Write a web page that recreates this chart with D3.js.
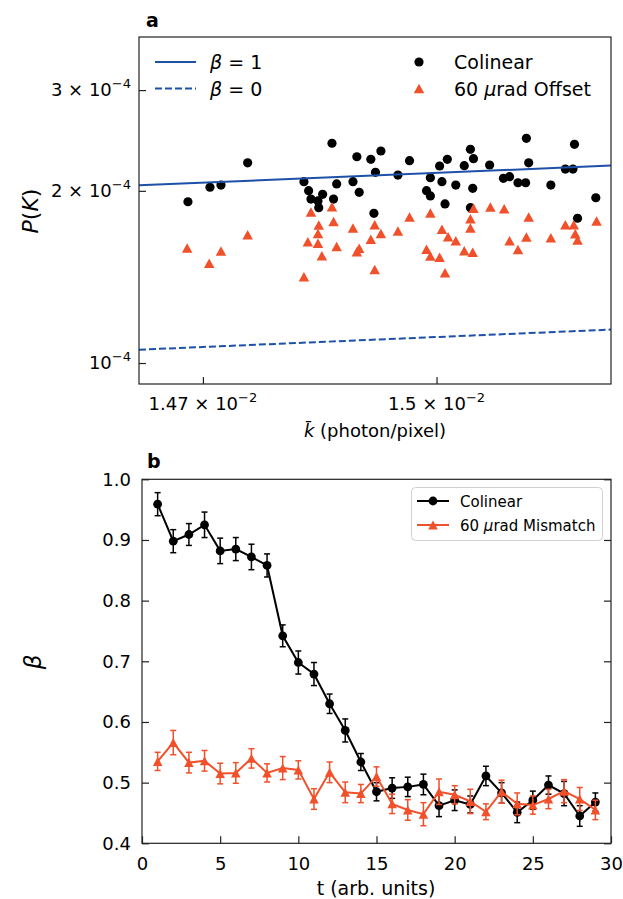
<!DOCTYPE html>
<html lang="en">
<head>
<meta charset="UTF-8" />
<title>P(K) and contrast</title>
<script src="https://d3js.org/d3.v7.min.js"></script>
<style>
  body { margin: 0; background: #fff; }
  svg { display: block; font-family: "DejaVu Sans", sans-serif; }
  .spine { fill: none; stroke: #222; stroke-width: 1.2; }
  .tick line { stroke: #222; stroke-width: 1.2; }
  .domain { display: none; }
</style>
</head>
<body>
<svg width="623" height="899"></svg>
<script>
// ---- panel a: k in units of 1e-2, P(K) in units of 1e-4
var kCol = [1.4681, 1.4709, 1.4723, 1.4757, 1.4829, 1.4835, 1.4838, 1.4847, 1.4848, 1.4853,
  1.4865, 1.4867, 1.4871, 1.4892, 1.4897, 1.4900, 1.4915, 1.4919, 1.4921, 1.4928,
  1.4950, 1.4965, 1.4987, 1.4992, 1.4992, 1.5004, 1.5007, 1.5011, 1.5014, 1.5025,
  1.5036, 1.5044, 1.5044, 1.5047, 1.5048, 1.5069, 1.5087, 1.5095, 1.5106, 1.5116,
  1.5117, 1.5120, 1.5149, 1.5168, 1.5178, 1.5180, 1.5184, 1.5208];
var pCol = [1.914, 2.029, 2.047, 2.239, 2.075, 2.001, 1.935, 1.920, 1.869, 1.972,
  2.422, 1.935, 2.056, 2.075, 2.294, 1.988, 2.270, 1.827, 2.155, 2.348,
  2.131, 2.258, 2.001, 2.108, 1.959, 2.210, 2.075, 1.897, 2.270, 2.047,
  2.213, 2.364, 1.869, 2.020, 2.276, 2.219, 2.103, 2.117, 2.066, 2.066,
  2.471, 2.239, 2.047, 2.183, 2.183, 2.412, 1.791, 1.945];
var kOff = [1.4680, 1.4708, 1.4723, 1.4757, 1.4829, 1.4834, 1.4838, 1.4847, 1.4847, 1.4848,
  1.4852, 1.4865, 1.4867, 1.4871, 1.4892, 1.4897, 1.4900, 1.4915, 1.4920, 1.4920,
  1.4928, 1.4950, 1.4965, 1.4987, 1.4992, 1.4992, 1.5004, 1.5007, 1.5011, 1.5015,
  1.5025, 1.5036, 1.5044, 1.5044, 1.5047, 1.5048, 1.5070, 1.5088, 1.5095, 1.5106,
  1.5117, 1.5120, 1.5149, 1.5168, 1.5179, 1.5181, 1.5184, 1.5209];
var pOff = [1.589, 1.494, 1.570, 1.676, 1.415, 1.630, 1.837, 1.685, 1.619, 1.743,
  1.540, 1.876, 1.768, 1.599, 1.722, 1.565, 1.587, 1.646, 1.745, 1.457,
  1.684, 1.701, 1.800, 1.581, 1.829, 1.538, 1.531, 1.713, 1.438, 1.663,
  1.636, 1.571, 1.788, 1.722, 1.562, 1.864, 1.874, 1.861, 1.636, 1.579,
  1.661, 1.800, 1.656, 1.745, 1.745, 1.683, 1.641, 1.771];
// theory lines, end points
var kLine = [1.4619, 1.5228];
var pBeta1 = [2.045, 2.214];
var pBeta0 = [1.055, 1.144];
var kTicks = [1.47, 1.5];
var kTickLabels = ["1.47", "1.5"];
var pTicks = [1, 2, 3];
var pTickLabels = ["", "2", "3"];

// ---- panel b
var tVals = [1, 2, 3, 4, 5, 6, 7, 8, 9, 10, 11, 12, 13, 14, 15, 16, 17, 18, 19, 20,
  21, 22, 23, 24, 25, 26, 27, 28, 29];
var betaCol = [0.959, 0.898, 0.909, 0.925, 0.882, 0.885, 0.872, 0.858, 0.742, 0.698,
  0.679, 0.630, 0.586, 0.534, 0.485, 0.491, 0.493, 0.497, 0.462, 0.471,
  0.464, 0.511, 0.483, 0.451, 0.471, 0.496, 0.482, 0.445, 0.468];
var errCol = [0.019, 0.019, 0.018, 0.021, 0.021, 0.019, 0.021, 0.019, 0.018, 0.019,
  0.019, 0.016, 0.019, 0.014, 0.015, 0.017, 0.016, 0.017, 0.018, 0.017,
  0.014, 0.016, 0.017, 0.017, 0.015, 0.015, 0.020, 0.017, 0.015];
var betaMis = [0.535, 0.566, 0.533, 0.536, 0.515, 0.516, 0.540, 0.516, 0.524, 0.521,
  0.473, 0.517, 0.484, 0.482, 0.510, 0.465, 0.455, 0.448, 0.485, 0.480,
  0.469, 0.452, 0.485, 0.465, 0.463, 0.473, 0.486, 0.473, 0.455];
var errMis = [0.015, 0.020, 0.017, 0.017, 0.017, 0.017, 0.016, 0.015, 0.019, 0.015,
  0.017, 0.017, 0.017, 0.015, 0.016, 0.016, 0.017, 0.019, 0.021, 0.015,
  0.020, 0.013, 0.019, 0.018, 0.015, 0.016, 0.019, 0.019, 0.016];
var tTicks = [0, 5, 10, 15, 20, 25, 30];
var betaTicks = [0.4, 0.5, 0.6, 0.7, 0.8, 0.9, 1.0];

var BLUE = "#1d50a8", RED = "#f0502a";

var svg = d3.select("svg");

function triPath(w, h) {
  return "M0," + (-h / 2) + "L" + (w / 2) + "," + (h / 2) + "L" + (-w / 2) + "," + (h / 2) + "Z";
}

// ================= panel a =================
var A = { left: 139, right: 611, top: 37, bottom: 384 };
var xa = d3.scaleLog().domain([1.4619, 1.5228]).range([A.left, A.right]);
var ya = d3.scaleLog().domain([0.919, 3.715]).range([A.bottom, A.top]);

var ga = svg.append("g");

ga.append("g")
  .attr("transform", "translate(0," + A.bottom + ")")
  .call(d3.axisBottom(xa).tickValues(kTicks).tickFormat("").tickSize(-7));
ga.append("g")
  .attr("transform", "translate(" + A.left + ",0)")
  .call(d3.axisLeft(ya).tickValues(pTicks).tickFormat("").tickSize(-7));

// x tick labels  a × 10^-2
kTicks.forEach(function (v, i) {
  var t = ga.append("text").attr("x", xa(v)).attr("y", 410)
    .attr("text-anchor", "middle").style("font-size", "18px");
  t.append("tspan").text(kTickLabels[i] + " × 10");
  t.append("tspan").attr("dy", -8).style("font-size", "13px").text("−2");
});
// y tick labels
pTicks.forEach(function (v, i) {
  var t = ga.append("text").attr("x", 131).attr("y", ya(v) + 6)
    .attr("text-anchor", "end").style("font-size", "18px");
  t.append("tspan").text(pTickLabels[i] ? pTickLabels[i] + " × 10" : "10");
  t.append("tspan").attr("dy", -8).style("font-size", "13px").text("−4");
});

// scatter
ga.append("g").selectAll("circle").data(d3.zip(kCol, pCol)).enter()
  .append("circle")
  .attr("cx", function (d) { return xa(d[0]); })
  .attr("cy", function (d) { return ya(d[1]); })
  .attr("r", 4.6).attr("fill", "#000");
ga.append("g").selectAll("path").data(d3.zip(kOff, pOff)).enter()
  .append("path")
  .attr("d", triPath(10.5, 9.5))
  .attr("transform", function (d) { return "translate(" + xa(d[0]) + "," + ya(d[1]) + ")"; })
  .attr("fill", RED);

var lineA = d3.line().x(function (d) { return xa(d[0]); }).y(function (d) { return ya(d[1]); });
ga.append("path").datum(d3.zip(kLine, pBeta1)).attr("d", lineA)
  .attr("fill", "none").attr("stroke", BLUE).attr("stroke-width", 2);
ga.append("path").datum(d3.zip(kLine, pBeta0)).attr("d", lineA)
  .attr("fill", "none").attr("stroke", BLUE).attr("stroke-width", 2)
  .attr("stroke-dasharray", "7,3");

ga.append("rect").attr("class", "spine")
  .attr("x", A.left).attr("y", A.top)
  .attr("width", A.right - A.left).attr("height", A.bottom - A.top);

// legends (no frame)
[["1", null], ["0", "7,3"]].forEach(function (e, i) {
  var y = 62 + i * 26.5;
  ga.append("line").attr("x1", 155).attr("x2", 196).attr("y1", y).attr("y2", y)
    .attr("stroke", BLUE).attr("stroke-width", 2).attr("stroke-dasharray", e[1]);
  var t = ga.append("text").attr("x", 210).attr("y", y + 7).style("font-size", "19px");
  t.append("tspan").style("font-style", "italic").text("β");
  t.append("tspan").text(" = " + e[0]);
});
ga.append("circle").attr("cx", 419).attr("cy", 62).attr("r", 4.6).attr("fill", "#000");
ga.append("path").attr("d", triPath(10.5, 9.5)).attr("transform", "translate(419,88.5)").attr("fill", RED);
ga.append("text").attr("x", 454).attr("y", 69).style("font-size", "19px").text("Colinear");
var tl = ga.append("text").attr("x", 454).attr("y", 95.5).style("font-size", "19px");
tl.append("tspan").text("60 ");
tl.append("tspan").style("font-style", "italic").text("μ");
tl.append("tspan").text("rad Offset");

// labels
ga.append("text").attr("x", 146).attr("y", 27).style("font-size", "19px")
  .style("font-weight", "bold").text("a");
var xl = ga.append("text").attr("x", 375).attr("y", 437).attr("text-anchor", "middle")
  .style("font-size", "18px");
xl.append("tspan").style("font-style", "italic").text("k\u0304");
xl.append("tspan").text(" (photon/pixel)");
var yl = ga.append("text").attr("transform", "translate(38,211) rotate(-90)")
  .attr("text-anchor", "middle").style("font-size", "22px");
yl.append("tspan").style("font-style", "italic").text("P");
yl.append("tspan").text("(");
yl.append("tspan").style("font-style", "italic").text("K");
yl.append("tspan").text(")");

// ================= panel b =================
var B = { left: 142, right: 611, top: 479.3, bottom: 843.3 };
var xb = d3.scaleLinear().domain([0, 30]).range([B.left, B.right]);
var yb = d3.scaleLinear().domain([0.4, 1.0]).range([B.bottom, B.top]);

var gb = svg.append("g").style("font-size", "18px");

gb.append("g")
  .attr("transform", "translate(0," + B.bottom + ")")
  .call(d3.axisBottom(xb).tickValues(tTicks).tickFormat(d3.format("d")).tickSize(-7).tickPadding(14))
  .call(function (g) { g.selectAll("text").style("font-size", "18px").attr("fill", "#000").style("font-family", "DejaVu Sans"); });
gb.append("g")
  .attr("transform", "translate(" + B.left + ",0)")
  .call(d3.axisLeft(yb).tickValues(betaTicks).tickFormat(d3.format(".1f")).tickSize(-7).tickPadding(11))
  .call(function (g) { g.selectAll("text").style("font-size", "18px").attr("fill", "#000").style("font-family", "DejaVu Sans"); });
gb.append("g")
  .attr("transform", "translate(" + B.right + ",0)")
  .call(d3.axisRight(yb).tickValues(betaTicks).tickFormat("").tickSize(-7));

function series(vals, errs, color, marker) {
  var pts = tVals.map(function (t, i) { return { t: t, v: vals[i], e: errs[i] }; });
  var g = gb.append("g");
  var eb = g.append("g").attr("stroke", color).attr("stroke-width", 1.5);
  pts.forEach(function (p) {
    var x = xb(p.t), y1 = yb(p.v - p.e), y2 = yb(p.v + p.e);
    eb.append("line").attr("x1", x).attr("x2", x).attr("y1", y1).attr("y2", y2);
    eb.append("line").attr("x1", x - 3).attr("x2", x + 3).attr("y1", y1).attr("y2", y1);
    eb.append("line").attr("x1", x - 3).attr("x2", x + 3).attr("y1", y2).attr("y2", y2);
  });
  g.append("path").datum(pts)
    .attr("d", d3.line().x(function (d) { return xb(d.t); }).y(function (d) { return yb(d.v); }))
    .attr("fill", "none").attr("stroke", color).attr("stroke-width", 2);
  pts.forEach(function (p) {
    if (marker === "o") {
      g.append("circle").attr("cx", xb(p.t)).attr("cy", yb(p.v)).attr("r", 4.4).attr("fill", color);
    } else {
      g.append("path").attr("d", triPath(9.5, 9))
        .attr("transform", "translate(" + xb(p.t) + "," + yb(p.v) + ")").attr("fill", color);
    }
  });
}
series(betaCol, errCol, "#000", "o");
series(betaMis, errMis, RED, "^");

gb.append("rect").attr("class", "spine")
  .attr("x", B.left).attr("y", B.top)
  .attr("width", B.right - B.left).attr("height", B.bottom - B.top);

// legend
gb.append("rect").attr("x", 411.5).attr("y", 487.5).attr("width", 191).attr("height", 53)
  .attr("rx", 4).attr("fill", "#fff").attr("fill-opacity", 0.8)
  .attr("stroke", "#d0d0d0").attr("stroke-width", 1);
[["Colinear", "#000", "o"], ["60 μrad Mismatch", RED, "^"]].forEach(function (e, i) {
  var y = 501 + i * 24;
  gb.append("line").attr("x1", 417).attr("x2", 449).attr("y1", y).attr("y2", y)
    .attr("stroke", e[1]).attr("stroke-width", 2);
  if (e[2] === "o") {
    gb.append("circle").attr("cx", 433).attr("cy", y).attr("r", 4.4).attr("fill", e[1]);
  } else {
    gb.append("path").attr("d", triPath(9.5, 9)).attr("transform", "translate(433," + y + ")").attr("fill", e[1]);
  }
  var t = gb.append("text").attr("x", 460).attr("y", y + 5.5).style("font-size", "15px");
  if (i === 0) {
    t.text(e[0]);
  } else {
    t.append("tspan").text("60 ");
    t.append("tspan").style("font-style", "italic").text("μ");
    t.append("tspan").text("rad Mismatch");
  }
});

gb.append("text").attr("x", 147).attr("y", 468).style("font-size", "19px")
  .style("font-weight", "bold").text("b");
gb.append("text").attr("x", 376).attr("y", 895).attr("text-anchor", "middle")
  .style("font-size", "19px").text("t (arb. units)");
gb.append("text").attr("transform", "translate(41,662) rotate(-90)")
  .attr("text-anchor", "middle").style("font-size", "23px").style("font-style", "italic").text("β");
</script>
</body>
</html>
